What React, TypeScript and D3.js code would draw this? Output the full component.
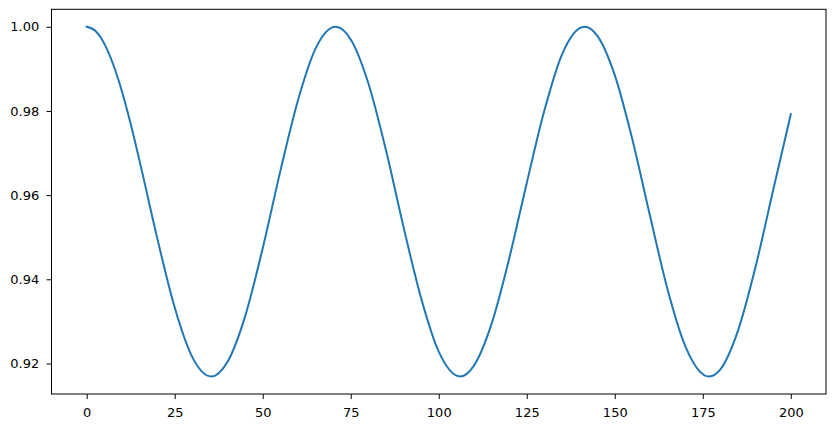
import React, { useEffect, useRef } from 'react';
import * as d3 from 'd3';

// Values; the peaks and troughs are given at their own x
const xValues = [
  0, 2.5, 5, 7.5, 10, 12.5, 15, 20, 25, 30, 35.4, 40, 45, 50, 55, 60, 65, 70.7, 75, 80, 85, 90, 95, 100,
  106.1, 110, 115, 120, 125, 130, 135, 141.4, 145, 150, 155, 160, 165, 170, 176.8,
  180, 185, 190, 195, 200,
];
const yValues = [
  1.0, 0.999, 0.996, 0.9911, 0.9847, 0.9769, 0.9682, 0.9499, 0.9333, 0.9215, 0.9169, 0.9204, 0.9312, 0.9474,
  0.9657, 0.9825, 0.9948, 1.0, 0.997, 0.9866, 0.9707, 0.9524, 0.9355, 0.9228, 0.9169,
  0.9195, 0.9294, 0.9449, 0.9629, 0.9801, 0.9934, 1.0, 0.9979, 0.9885, 0.9732,
  0.9551, 0.9376, 0.9242, 0.9169, 0.9186, 0.9278, 0.9430, 0.9612, 0.9792,
];
const xTicks = [0, 25, 50, 75, 100, 125, 150, 175, 200];
const yTicks = [0.92, 0.94, 0.96, 0.98, 1.0];

const W = 835;
const H = 428;

export default function App() {
  const svgRef = useRef<SVGSVGElement>(null);

  useEffect(() => {
    if (!svgRef.current) return;
    const svg = d3.select(svgRef.current);
    svg.selectAll('*').remove();

    const left = 51.5, right = 826, top = 9.3, bottom = 394;

    // matplotlib-style 5% margins
    const [xMin, xMax] = d3.extent(xValues) as [number, number];
    const [yMin, yMax] = d3.extent(yValues) as [number, number];
    const xPad = (xMax - xMin) * 0.05;
    const yPad = (yMax - yMin) * 0.05;

    const x = d3.scaleLinear().domain([xMin - xPad, xMax + xPad]).range([left, right]);
    const y = d3.scaleLinear().domain([yMin - yPad, yMax + yPad]).range([bottom, top]);

    const font = '"DejaVu Sans", sans-serif';

    const xAxis = svg.append('g')
      .attr('transform', `translate(0,${bottom})`)
      .call(d3.axisBottom(x).tickValues(xTicks).tickFormat(d3.format('d')).tickSize(5).tickPadding(8.7));
    const yAxis = svg.append('g')
      .attr('transform', `translate(${left},0)`)
      .call(d3.axisLeft(y).tickValues(yTicks).tickFormat(d3.format('.2f')).tickSize(5).tickPadding(7.3));

    [xAxis, yAxis].forEach(a => {
      a.select('.domain').remove();
      a.selectAll('line').attr('stroke', '#000').attr('stroke-width', 1);
      a.selectAll('text').attr('fill', '#000').style('font-family', font).style('font-size', '13px');
    });

    // frame
    svg.append('rect')
      .attr('x', left).attr('y', top)
      .attr('width', right - left).attr('height', bottom - top)
      .attr('fill', 'none').attr('stroke', '#000').attr('stroke-width', 1);

    const line = d3.line<number>()
      .x((_, i) => x(xValues[i]))
      .y(d => y(d))
      .curve(d3.curveMonotoneX);

    svg.append('path')
      .datum(yValues)
      .attr('d', line)
      .attr('fill', 'none')
      .attr('stroke', '#1f77b4')
      .attr('stroke-width', 2)
      .attr('stroke-linecap', 'square');
  }, []);

  return (
    <div style={{ position: 'fixed', left: 0, top: 0, background: '#fff' }}>
      <svg ref={svgRef} width={W} height={H} style={{ display: 'block' }} />
    </div>
  );
}
